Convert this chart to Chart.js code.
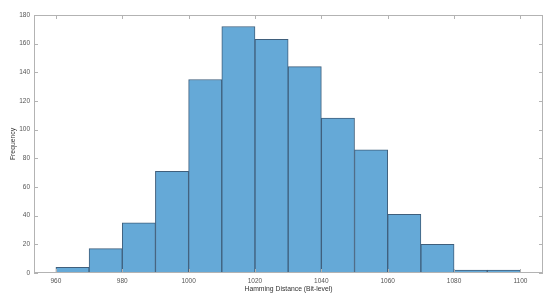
<!DOCTYPE html>
<html>
<head>
<meta charset="utf-8">
<script src="https://cdn.jsdelivr.net/npm/chart.js@4"></script>
<style>
  html, body { margin: 0; padding: 0; background: #fff; }
  #wrap { width: 551px; height: 299px; }
</style>
</head>
<body>
<div id="wrap"><canvas id="hist"></canvas></div>
<script>
// histogram bins (left edges), width 10
var binEdges = [960, 970, 980, 990, 1000, 1010, 1020, 1030, 1040, 1050, 1060, 1070, 1080, 1090];
var binWidth = 10;
var counts = [4, 17, 35, 71, 135, 172, 163, 144, 108, 86, 41, 20, 2, 2];
var xTicks = [960, 980, 1000, 1020, 1040, 1060, 1080, 1100];
var yTicks = [0, 20, 40, 60, 80, 100, 120, 140, 160, 180];

var axisColor = "#b3b3b3";
var labelColor = "#555555";
var font = { family: "'Liberation Sans', Arial, sans-serif", size: 6.5 };
var titleFont = { family: "'Liberation Sans', Arial, sans-serif", size: 6.8 };

// box + inward tick marks, MATLAB style
var boxPlugin = {
    id: "box",
    afterDraw: function (chart) {
        var ctx = chart.ctx, a = chart.chartArea;
        var x = chart.scales.x, y = chart.scales.y;
        ctx.save();
        ctx.strokeStyle = axisColor;
        ctx.lineWidth = 1;
        ctx.strokeRect(a.left + 0.5, a.top + 0.5, a.right - a.left - 1, a.bottom - a.top - 1);
        ctx.beginPath();
        xTicks.forEach(function (v) {
            var px = Math.round(x.getPixelForValue(v)) + 0.5;
            ctx.moveTo(px, a.bottom); ctx.lineTo(px, a.bottom - 4);
            ctx.moveTo(px, a.top); ctx.lineTo(px, a.top + 4);
        });
        yTicks.forEach(function (v) {
            var py = Math.round(y.getPixelForValue(v)) + 0.5;
            ctx.moveTo(a.left, py); ctx.lineTo(a.left + 4, py);
            ctx.moveTo(a.right, py); ctx.lineTo(a.right - 4, py);
        });
        ctx.stroke();
        ctx.restore();
    },
};

function plain(v) { return String(v); }

new Chart(document.getElementById("hist"), {
    type: "bar",
    data: {
        datasets: [
            {
                data: binEdges.map(function (e, i) {
                    return { x: e + binWidth / 2, y: counts[i] };
                }),
                backgroundColor: "#65a9d7",
                borderColor: "#3f5f7c",
                borderWidth: 1,
                borderSkipped: "bottom",
                barPercentage: 1,
                categoryPercentage: 1,
            },
        ],
    },
    options: {
        animation: false,
        responsive: true,
        maintainAspectRatio: false,
        layout: { padding: { top: 15, right: 8, left: 0, bottom: 0 } },
        plugins: { legend: { display: false }, tooltip: { enabled: false } },
        scales: {
            x: {
                type: "linear",
                offset: false,
                min: 953.4,
                max: 1106.8,
                afterBuildTicks: function (s) {
                    s.ticks = xTicks.map(function (v) { return { value: v }; });
                },
                afterFit: function (s) { s.height = 26; },
                grid: { display: false, drawTicks: false },
                border: { display: false },
                ticks: { color: labelColor, font: font, padding: 4, maxRotation: 0, callback: plain },
                title: {
                    display: true,
                    text: "Hamming Distance (Bit-level)",
                    color: "#333333",
                    font: titleFont,
                    padding: { top: 1, bottom: 6 },
                },
            },
            y: {
                min: 0,
                max: 180,
                afterBuildTicks: function (s) {
                    s.ticks = yTicks.map(function (v) { return { value: v }; });
                },
                afterFit: function (s) { s.width = 34; },
                grid: { display: false, drawTicks: false },
                border: { display: false },
                ticks: { color: labelColor, font: font, padding: 4, callback: plain },
                title: {
                    display: true,
                    text: "Frequency",
                    color: "#333333",
                    font: titleFont,
                    padding: { top: 9, bottom: 0 },
                },
            },
        },
    },
    plugins: [boxPlugin],
});
</script>
</body>
</html>
